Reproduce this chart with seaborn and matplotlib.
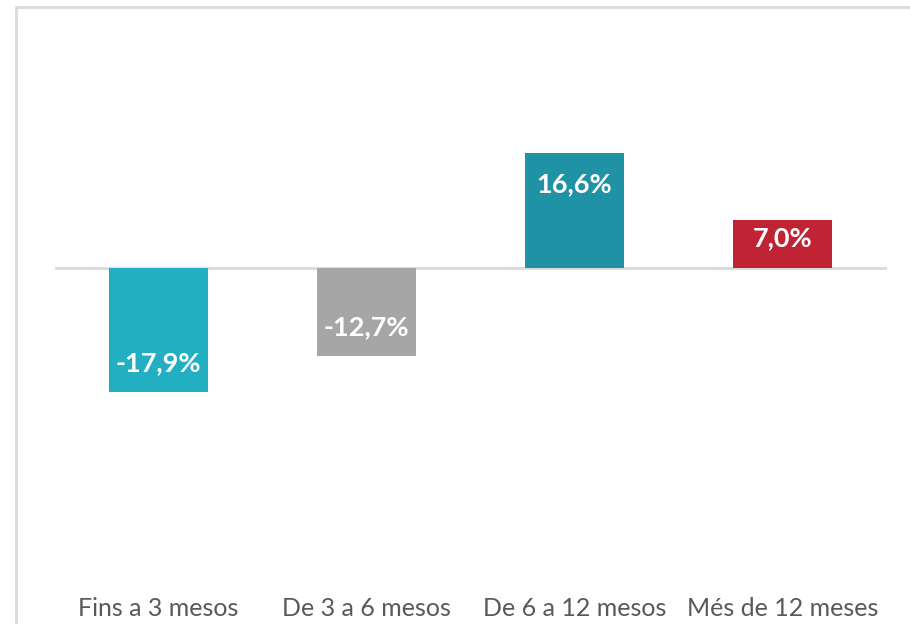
import matplotlib
matplotlib.use("Agg")
import matplotlib.pyplot as plt
from matplotlib.lines import Line2D
import seaborn as sns
import pandas as pd

# Data
categories = ["Fins a 3 mesos", "De 3 a 6 mesos", "De 6 a 12 mesos", "Més de 12 meses"]
values = [-17.9, -12.7, 16.6, 7.0]
labels = ["-17,9%", "-12,7%", "16,6%", "7,0%"]
colors = ["#22AFC2", "#A6A6A6", "#1F93A5", "#C02334"]

df = pd.DataFrame({"cat": categories, "val": values})

sns.set_style("white")
plt.rcParams["font.family"] = ["Lato", "DejaVu Sans"]

fig = plt.figure(figsize=(9.1, 6.24), dpi=100)
ax = fig.add_axes([54.5 / 910, 44 / 624, 832 / 910, 485 / 624])

sns.barplot(data=df, x="cat", y="val", hue="cat", palette=colors,
            width=0.476, legend=False, ax=ax, saturation=1, linewidth=0)

ax.set_ylim(-45, 25)
ax.set_xlim(-0.5, 3.5)
ax.axhline(0, color="#D9D9D9", lw=2, zorder=0)

# value labels inside the bars
offsets = [29, 29, -31, -18]  # px from bar end
for i, (v, lab, off) in enumerate(zip(values, labels, offsets)):
    ax.annotate(lab, (i, v), xytext=(0, off * 0.72), textcoords="offset points",
                ha="center", va="center", color="white", fontsize=19.5,
                fontweight="bold")

for s in ax.spines.values():
    s.set_visible(False)
ax.set_yticks([])
ax.set_xlabel("")
ax.set_ylabel("")
ax.tick_params(axis="x", length=0, pad=12, labelsize=18, labelcolor="#595959")

# chart border
fig.add_artist(Line2D([16 / 910, 16 / 910], [0, 1 - 7 / 624], color="#D9D9D9", lw=2))
fig.add_artist(Line2D([16 / 910, 1], [1 - 7 / 624, 1 - 7 / 624], color="#D9D9D9", lw=2))

fig.savefig("out.png", dpi=100)
